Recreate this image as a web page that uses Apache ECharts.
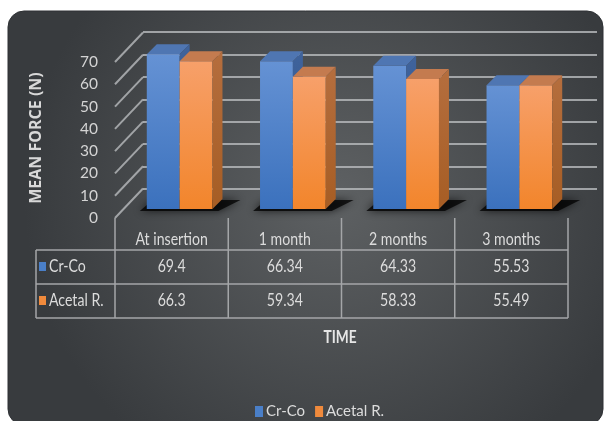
<!DOCTYPE html>
<html><head><meta charset="utf-8">
<script src="https://cdn.jsdelivr.net/npm/echarts@6/dist/echarts.min.js"></script>
<style>html,body{margin:0;padding:0;background:#fff}#c{width:604px;height:421px}</style>
</head><body><div id="c"></div>
<script>
const categories = ['At insertion', '1 month', '2 months', '3 months'];
const crCo = [69.4, 66.34, 64.33, 55.53];
const acetal = [66.3, 59.34, 58.33, 55.49];
const yTicks = [0, 10, 20, 30, 40, 50, 60, 70];
const seriesNames = ['Cr-Co', 'Acetal R.'];

const FONT = 'Lato, sans-serif';
const TXT = '#dcdcdc';
const GRIDC = 'rgba(185,188,190,0.8)';
const LINEC = '#a4a6a8';
// perspective constants (styling)
const FLOOR_DX = 28, FLOOR_DY = -29.5;
const OFF_X = 8, OFF_Y = -9;
const DX = 10, DY = -10;
const SX = 0.83; // horizontal text squeeze

const G = echarts.graphic;
const faces = [
  { front: new G.LinearGradient(0,0,0,1,[{offset:0,color:'#6592d4'},{offset:1,color:'#3b71bd'}]),
    top: '#4f76b2',
    side: new G.LinearGradient(0,0,0,1,[{offset:0,color:'#3f639c'},{offset:1,color:'#2f5389'}]) },
  { front: new G.LinearGradient(0,0,0,1,[{offset:0,color:'#f7a06a'},{offset:1,color:'#f2852b'}]),
    top: '#c47b4f',
    side: new G.LinearGradient(0,0,0,1,[{offset:0,color:'#b56e3e'},{offset:1,color:'#a65d24'}]) }
];

function barRender(sIdx) {
  return function (params, api) {
    const i = api.value(0), v = api.value(1);
    const top = api.coord([i, v]), base = api.coord([i, 0]);
    const band = api.size([1, 0])[0];
    const w = band * 0.29;
    const cx = base[0] + OFF_X;
    const x0 = sIdx === 0 ? cx - w : cx;
    const x1 = x0 + w;
    const yb = base[1] + OFF_Y, yt = top[1] + OFF_Y;
    const f = faces[sIdx];
    const ch = [];
    if (sIdx === 0) {
      ch.push({ type: 'polygon', shape: { points: [[cx - w - 7, yb + 2], [cx + w + 6, yb + 2], [cx + w + DX + 18, yb - 9], [cx - w + DX - 4, yb - 9]] },
        style: { fill: 'rgba(0,0,0,0.75)', shadowBlur: 8, shadowColor: 'rgba(0,0,0,0.9)' } });
    }
    ch.push({ type: 'rect', shape: { x: x0, y: yt, width: w, height: yb - yt }, style: { fill: f.front } });
    ch.push({ type: 'polygon', shape: { points: [[x0, yt], [x1, yt], [x1 + DX, yt + DY], [x0 + DX, yt + DY]] }, style: { fill: f.top } });
    ch.push({ type: 'polygon', shape: { points: [[x1, yt], [x1 + DX, yt + DY], [x1 + DX, yb + DY], [x1, yb]] }, style: { fill: f.side } });
    return { type: 'group', children: ch };
  };
}

function diagRender(params, api) {
  const v = api.value(1);
  const p = api.coord([0, v]);
  const band = api.size([1, 0])[0];
  const x0 = p[0] - band / 2;
  return { type: 'line', shape: { x1: x0, y1: p[1], x2: x0 + FLOOR_DX, y2: p[1] + FLOOR_DY },
    style: { stroke: GRIDC, lineWidth: 2 } };
}

function txt(x, y, text, align) {
  return { type: 'text', x: x, y: y, scaleX: SX,
    style: { x: 0, y: 0, text: text, fill: TXT, fontSize: 17, fontFamily: FONT, align: align || 'center', verticalAlign: 'middle' } };
}

function tableRender(params, api) {
  const i = api.value(0);
  const p = api.coord([i, 0]);
  const band = api.size([1, 0])[0];
  const xl = p[0] - band / 2, xr = xl + band;
  const y0 = p[1];
  const ch = [
    txt(p[0], y0 + 22, categories[i]),
    txt(p[0], y0 + 49, String(crCo[i])),
    txt(p[0], y0 + 83, String(acetal[i])),
    { type: 'line', shape: { x1: xr, y1: y0, x2: xr, y2: y0 + 100 }, style: { stroke: LINEC, lineWidth: 1.5 } }
  ];
  if (i === 0) {
    const xEnd = xl + band * categories.length;
    const xLeft = 36;
    ch.push({ type: 'line', shape: { x1: xl, y1: y0, x2: xl, y2: y0 + 100 }, style: { stroke: LINEC, lineWidth: 1.5 } });
    [32, 66, 100].forEach(d => ch.push({ type: 'line', shape: { x1: xLeft, y1: y0 + d, x2: xEnd, y2: y0 + d }, style: { stroke: LINEC, lineWidth: 1.5 } }));
    ch.push({ type: 'line', shape: { x1: xLeft, y1: y0 + 32, x2: xLeft, y2: y0 + 100 }, style: { stroke: LINEC, lineWidth: 1.5 } });
    const keyCols = ['#4a7fc8', '#f08a3c'];
    [49, 83].forEach((d, k) => {
      ch.push({ type: 'rect', shape: { x: xLeft + 3, y: y0 + d - 5, width: 7, height: 9 }, style: { fill: keyCols[k] } });
      ch.push(txt(xLeft + 13, y0 + d, seriesNames[k], 'left'));
    });
  }
  return { type: 'group', children: ch };
}

const chart = echarts.init(document.getElementById('c'), null, { renderer: 'canvas' });
chart.setOption({
  backgroundColor: '#ffffff',
  animation: false,
  color: ['#4a7fc8', '#f08a3c'],
  graphic: [
    { type: 'rect', z: -10, shape: { x: 8, y: 11, width: 595, height: 414, r: 16 },
      style: { fill: new G.RadialGradient(0.55, 0.45, 0.75, [{ offset: 0, color: '#5e6163' }, { offset: 1, color: '#383b3e' }]),
        stroke: '#2e3134', lineWidth: 1 } },
    { type: 'text', z: 10, x: 340, y: 338, scaleX: SX, style: { x: 0, y: 0, text: 'TIME', fill: '#e6e6e6', fontSize: 16.5, fontWeight: 'bold', fontFamily: FONT, align: 'center', verticalAlign: 'middle' } },
    { type: 'text', z: 10, rotation: Math.PI / 2, x: 36, y: 138,
      style: { text: 'MEAN FORCE (N)', fill: '#d8d8d8', fontSize: 16, fontWeight: 'bold', fontFamily: '"Open Sans", sans-serif', align: 'center', verticalAlign: 'middle' } }
  ],
  legend: {
    data: seriesNames, left: 250, top: 399, icon: 'rect', itemWidth: 8, itemHeight: 11, itemGap: 10,
    textStyle: { color: '#dcdcdc', fontSize: 15, fontFamily: FONT, padding: [0, 0, 0, -2] }
  },
  grid: [
    { left: 115, right: 36, top: 62, bottom: 203 },
    { left: 143, right: 7, top: 32, bottom: 232 }
  ],
  xAxis: [
    { type: 'category', gridIndex: 0, data: categories, boundaryGap: true, axisLine: { show: false }, axisTick: { show: false }, axisLabel: { show: false } },
    { type: 'category', gridIndex: 1, data: categories, show: false }
  ],
  yAxis: [
    { type: 'value', gridIndex: 0, min: 0, max: 70, interval: 10, axisLine: { show: false }, axisTick: { show: false }, splitLine: { show: false },
      axisLabel: { color: '#d4d4d4', fontSize: 15.5, fontFamily: FONT, margin: 17 } },
    { type: 'value', gridIndex: 1, min: 0, max: 70, interval: 10, axisLine: { show: false }, axisTick: { show: false }, axisLabel: { show: false },
      splitLine: { show: true, lineStyle: { color: GRIDC, width: 2 } } }
  ],
  series: [
    { type: 'custom', name: 'diag', xAxisIndex: 0, yAxisIndex: 0, renderItem: diagRender, data: yTicks.map(v => [0, v]), silent: true, z: 1 },
    { type: 'custom', name: seriesNames[0], xAxisIndex: 0, yAxisIndex: 0, renderItem: barRender(0), data: crCo.map((v, i) => [i, v]), itemStyle: { color: '#4a7fc8' }, z: 3 },
    { type: 'custom', name: seriesNames[1], xAxisIndex: 0, yAxisIndex: 0, renderItem: barRender(1), data: acetal.map((v, i) => [i, v]), itemStyle: { color: '#f08a3c' }, z: 3 },
    { type: 'custom', name: 'table', xAxisIndex: 0, yAxisIndex: 0, renderItem: tableRender, data: categories.map((c, i) => [i, 0]), silent: true, z: 4 }
  ]
});
</script></body></html>
